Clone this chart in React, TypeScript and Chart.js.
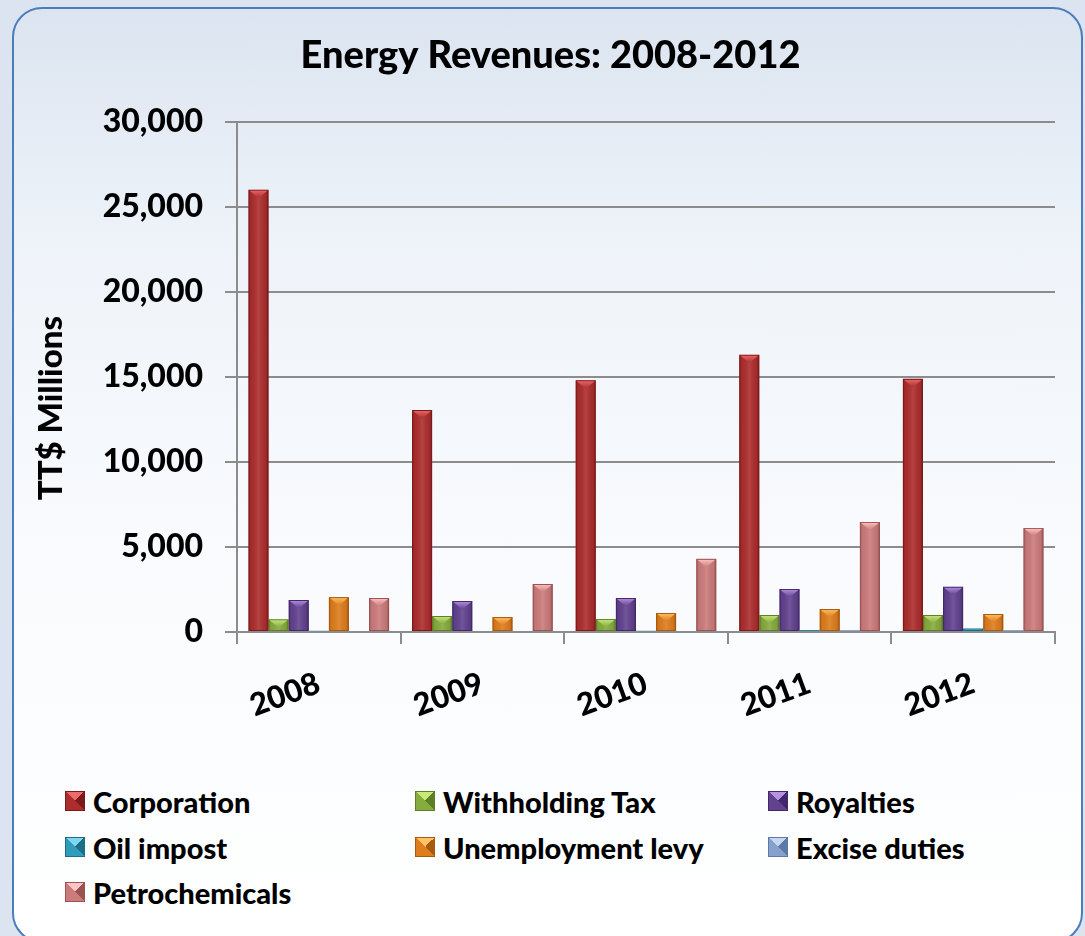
import React, { useEffect, useRef } from "react";
import { Chart, registerables } from "chart.js";

Chart.register(...registerables);

const years = ["2008", "2009", "2010", "2011", "2012"];
const corporation = [26000, 13050, 14800, 16300, 14880];
const withholdingTax = [750, 940, 770, 1000, 1000];
const royalties = [1880, 1820, 2000, 2530, 2660];
const oilImpost = [80, 60, 80, 100, 200];
const unemploymentLevy = [2050, 880, 1120, 1350, 1060];
const exciseDuties = [60, 60, 60, 90, 90];
const petrochemicals = [2000, 2820, 4300, 6470, 6120];

const seriesNames = [
  "Corporation",
  "Withholding Tax",
  "Royalties",
  "Oil impost",
  "Unemployment levy",
  "Excise duties",
  "Petrochemicals",
];
const seriesValues = [
  corporation,
  withholdingTax,
  royalties,
  oilImpost,
  unemploymentLevy,
  exciseDuties,
  petrochemicals,
];
const palette = [
  { base: "#ad2d2d", light: "#ec6c6c", dark: "#7a1a1a" },
  { base: "#86ab3e", light: "#c8e87c", dark: "#5e7d26" },
  { base: "#62428f", light: "#b592e2", dark: "#42286a" },
  { base: "#2f9cbc", light: "#7fd6f0", dark: "#1c6e86" },
  { base: "#de7d1d", light: "#ffc264", dark: "#a85a10" },
  { base: "#86a2cc", light: "#c4d6f0", dark: "#5d7aa6" },
  { base: "#cc7b7b", light: "#ffc4c4", dark: "#9a5252" },
];

const FONT = "Lato, 'Open Sans', 'DejaVu Sans', sans-serif";
const WEIGHT = 900;
const CANVAS_W = 1085;
const CANVAS_H = 760;
const AXIS_X = 237;
const AXIS_BOTTOM = 632;
const PAD_LEFT = 46;

const bevelPlugin = {
  id: "bevel",
  afterDatasetsDraw(chart: any) {
    const ctx = chart.ctx as CanvasRenderingContext2D;
    chart.data.datasets.forEach((_ds: any, i: number) => {
      const meta = chart.getDatasetMeta(i);
      const col = palette[i];
      meta.data.forEach((el: any) => {
        const { x, y, base, width } = el.getProps(["x", "y", "base", "width"], true);
        const left = x - width / 2;
        const right = x + width / 2;
        const top = Math.min(y, base);
        const bottom = Math.max(y, base);
        const h = bottom - top;
        if (h <= 0.5) return;
        ctx.save();
        ctx.beginPath();
        ctx.rect(left, top, width, h);
        ctx.clip();
        const g = ctx.createLinearGradient(left, 0, right, 0);
        g.addColorStop(0, "rgba(0,0,0,0.22)");
        g.addColorStop(0.14, "rgba(0,0,0,0.04)");
        g.addColorStop(0.5, "rgba(255,255,255,0.10)");
        g.addColorStop(0.86, "rgba(0,0,0,0.06)");
        g.addColorStop(1, "rgba(0,0,0,0.32)");
        ctx.fillStyle = g;
        ctx.fillRect(left, top, width, h);
        const th = width * 0.42;
        ctx.beginPath();
        ctx.moveTo(left, top);
        ctx.lineTo(right, top);
        ctx.lineTo(x, top + th);
        ctx.closePath();
        const tg = ctx.createLinearGradient(0, top, 0, top + th);
        tg.addColorStop(0, col.light);
        tg.addColorStop(1, col.base);
        ctx.fillStyle = tg;
        ctx.fill();
        ctx.strokeStyle = col.dark;
        ctx.lineWidth = 1;
        ctx.strokeRect(left + 0.5, top + 0.5, width - 1, h - 1);
        ctx.restore();
      });
    });
  },
};

export default function App() {
  const ref = useRef<HTMLCanvasElement>(null);

  useEffect(() => {
    if (!ref.current) return;
    const chart = new Chart(ref.current, {
      type: "bar",
      data: {
        labels: years,
        datasets: seriesNames.map((name, i) => ({
          label: name,
          data: seriesValues[i],
          backgroundColor: palette[i].base,
          borderWidth: 0,
          barPercentage: 1,
          categoryPercentage: 0.86,
        })),
      },
      options: {
        responsive: false,
        animation: false,
        layout: { padding: { left: PAD_LEFT, right: 30, top: 0, bottom: 0 } },
        plugins: {
          legend: { display: false },
          tooltip: { enabled: false },
          title: {
            display: true,
            text: "Energy Revenues: 2008-2012",
            color: "#000",
            font: { family: FONT, size: 38, weight: WEIGHT },
            padding: { top: 33, bottom: 43 },
          },
        },
        scales: {
          x: {
            grid: {
              drawOnChartArea: false,
              tickLength: 12,
              color: "#8c8c8c",
              lineWidth: 2,
            },
            border: { color: "#8c8c8c", width: 2 },
            ticks: {
              color: "#000",
              font: { family: FONT, size: 31, weight: WEIGHT },
              minRotation: 20,
              maxRotation: 20,
              padding: 21,
            },
            afterFit: (s: any) => {
              s.height = CANVAS_H - AXIS_BOTTOM;
            },
          },
          y: {
            min: 0,
            max: 30000,
            ticks: {
              stepSize: 5000,
              color: "#000",
              font: { family: FONT, size: 32, weight: WEIGHT },
              padding: 22,
              callback: (v: any) => Number(v).toLocaleString("en-US"),
            },
            grid: { color: "#8c8c8c", lineWidth: 2, tickLength: 12 },
            border: { display: true, color: "#8c8c8c", width: 2 },
            title: {
              display: true,
              text: "TT$ Millions\u00a0\u00a0\u00a0\u00a0\u00a0\u00a0\u00a0\u00a0",
              color: "#000",
              font: { family: FONT, size: 33, weight: WEIGHT },
              padding: { top: -14, bottom: 0 },
            },
            afterFit: (s: any) => {
              s.width = AXIS_X - PAD_LEFT;
            },
          },
        },
      },
      plugins: [bevelPlugin],
    } as any);
    return () => chart.destroy();
  }, []);

  const legendCols = [65, 415, 768];
  const legendRows = [801, 847, 892];

  return (
    <div
      style={{
        position: "fixed",
        left: 0,
        top: 0,
        width: 1085,
        height: 936,
        overflow: "hidden",
        background: "#dbe4f0",
        fontFamily: FONT,
      }}
    >
      <div
        style={{
          position: "absolute",
          left: 12,
          top: 7,
          width: 1071,
          height: 936,
          boxSizing: "border-box",
          border: "2px solid #4a7ebb",
          borderRadius: 30,
          background: "linear-gradient(to bottom, #dbe4f0 0%, #eef3f9 25%, #f8fafd 55%, #ffffff 100%)",
        }}
      />
      <canvas
        ref={ref}
        width={CANVAS_W}
        height={CANVAS_H}
        style={{ position: "absolute", left: 0, top: 0, width: CANVAS_W, height: CANVAS_H }}
      />
      {seriesNames.map((name, i) => {
        const col = legendCols[i % 3];
        const row = legendRows[Math.floor(i / 3)];
        const c = palette[i];
        return (
          <div
            key={name}
            style={{
              position: "absolute",
              left: col,
              top: row - 20,
              height: 40,
              display: "flex",
              alignItems: "center",
              whiteSpace: "nowrap",
            }}
          >
            <span
              style={{
                display: "inline-block",
                width: 20,
                height: 20,
                boxSizing: "border-box",
                border: `1px solid ${c.dark}`,
                background: `conic-gradient(from -45deg, ${c.light} 0deg 90deg, ${c.dark} 90deg 180deg, ${c.base} 180deg 270deg, ${c.base} 270deg 360deg)`,
                marginRight: 8,
              }}
            />
            <span style={{ fontSize: 29, fontWeight: WEIGHT, color: "#000" }}>{name}</span>
          </div>
        );
      })}
    </div>
  );
}
